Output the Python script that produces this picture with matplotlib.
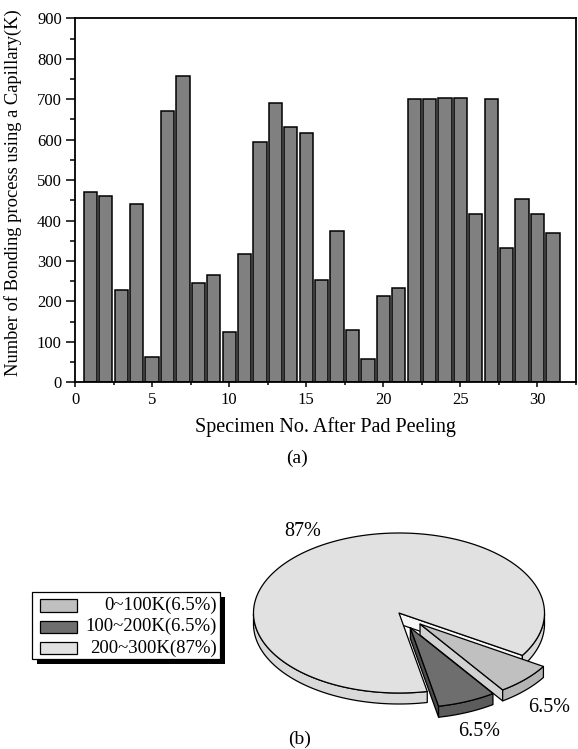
import numpy as np
import matplotlib

matplotlib.use("Agg")
import matplotlib.pyplot as plt
from matplotlib.patches import Polygon, Rectangle
from matplotlib.ticker import MultipleLocator

plt.rcParams["font.family"] = ["Liberation Serif", "DejaVu Serif"]

# (a) number of bonding processes per specimen (K)
specimens = list(range(1, 32))
bond_counts = [470, 461, 228, 442, 62, 671, 757, 246, 265, 124,
               316, 595, 690, 632, 616, 254, 375, 129, 58, 213,
               233, 700, 700, 703, 703, 416, 700, 333, 453, 416, 370]

# (b) share of specimens per range
range_labels = ["0~100K(6.5%)", "100~200K(6.5%)", "200~300K(87%)"]
range_share = [6.5, 6.5, 87]
range_explode = [0.2, 0.2, 0.0]
top_colors = ["#c0c0c0", "#6e6e6e", "#e1e1e1"]
wall_colors = ["#b4b4b4", "#5c5c5c", "#d9d9d9"]
face_colors = ["#d2d2d2", "#4c4c4c", "#f6f6f6"]

W, H = 578, 749
fig = plt.figure(figsize=(W / 100, H / 100), dpi=100)

# ---- pixel canvas for the pie part ----
cv = fig.add_axes([0, 0, 1, 1])
cv.set_xlim(0, W)
cv.set_ylim(H, 0)
cv.axis("off")

# ---- bar chart ----
ax = fig.add_axes([75 / W, 1 - 382.3 / H, 501 / W, 364 / H])
ax.bar(specimens, bond_counts, width=0.86, color="#808080", edgecolor="black", linewidth=1.1)
ax.set_xlim(0, 32.5)
ax.set_ylim(0, 900)
ax.xaxis.set_major_locator(MultipleLocator(5))
ax.xaxis.set_minor_locator(MultipleLocator(2.5))
ax.yaxis.set_major_locator(MultipleLocator(100))
ax.yaxis.set_minor_locator(MultipleLocator(50))
ax.tick_params(axis="y", which="major", length=6.5, width=1.1, labelsize=12, pad=3)
ax.tick_params(axis="y", which="minor", length=3.6, width=1.1)
ax.tick_params(axis="x", which="major", length=3.8, width=1.1, labelsize=12, pad=3)
ax.tick_params(axis="x", which="minor", length=2.5, width=1.1)
for s in ax.spines.values():
    s.set_linewidth(1.3)
ax.set_xlabel("Specimen No. After Pad Peeling", fontsize=14.5)
ax.set_ylabel("Number of Bonding process using a Capillary(K)", fontsize=13.3)
ax.xaxis.set_label_coords(0.5, -0.095)
ax.yaxis.set_label_coords(-0.106, 0.521)
fig.text(297 / W, 1 - 458 / H, "(a)", ha="center", va="center", fontsize=14)

# ---- 3D-looking pie ----
cx, cy, rx, ry, depth = 399, 613, 145.5, 80, 11
start = -32.0


def pt(c, t, down=0.0):
    return (c[0] + rx * np.cos(np.radians(t)), c[1] - ry * np.sin(np.radians(t)) + down)


angle = start
slices = []
for share, k in zip(range_share, range_explode):
    sweep = 360 * share / 100
    t_lo, t_hi = angle - sweep, angle
    angle = t_lo
    mid = np.radians((t_lo + t_hi) / 2)
    c = (cx + rx * k * np.cos(mid), cy - ry * k * np.sin(mid))
    slices.append((t_lo, t_hi, c))

order = [2, 0, 1]
for i in order:
    t_lo, t_hi, c = slices[i]
    ec = dict(edgecolor="black", linewidth=0.9, joinstyle="round")
    # cut faces
    for t, normal in ((t_lo, t_lo - 90), (t_hi, t_hi + 90)):
        if np.sin(np.radians(normal)) < 0:
            p = pt(c, t)
            quad = [c, p, (p[0], p[1] + depth), (c[0], c[1] + depth)]
            cv.add_patch(Polygon(quad, closed=True, facecolor=face_colors[i], **ec))
    # outer wall (front half only)
    ts = np.linspace(t_lo, t_hi, 400)
    vis = np.sin(np.radians(ts)) < 0
    runs, cur = [], []
    for t, v in zip(ts, vis):
        if v:
            cur.append(t)
        elif cur:
            runs.append(cur)
            cur = []
    if cur:
        runs.append(cur)
    for run in runs:
        top = [pt(c, t) for t in run]
        bot = [pt(c, t, depth) for t in run[::-1]]
        cv.add_patch(Polygon(top + bot, closed=True, facecolor=wall_colors[i], **ec))
    # top face
    arc = [pt(c, t) for t in np.linspace(t_lo, t_hi, 400)]
    cv.add_patch(Polygon([c] + arc, closed=True, facecolor=top_colors[i], **ec))

# percentage labels
label_pos = [(549, 707), (479, 731), (303, 532)]
for share, (lx, ly) in zip(range_share, label_pos):
    cv.text(lx, ly, f"{share:g}%", ha="center", va="center", fontsize=14.5)
cv.text(300, 739, "(b)", ha="center", va="center", fontsize=14)

# legend (text right aligned, drop shadow)
lx0, ly0, lx1, ly1 = 32, 592, 220, 659
cv.add_patch(Rectangle((lx0 + 5, ly0 + 5), lx1 - lx0, ly1 - ly0, facecolor="black", edgecolor="none"))
cv.add_patch(Rectangle((lx0, ly0), lx1 - lx0, ly1 - ly0, facecolor="white", edgecolor="black", linewidth=0.9))
for j, (lab, col) in enumerate(zip(range_labels, top_colors)):
    ry_ = 605.5 + 21.3 * j
    cv.add_patch(Rectangle((40, ry_ - 6.3), 37, 12.6, facecolor=col, edgecolor="black", linewidth=0.9))
    cv.text(217, ry_, lab, ha="right", va="center", fontsize=13.5)

fig.savefig("out.png", dpi=100)
